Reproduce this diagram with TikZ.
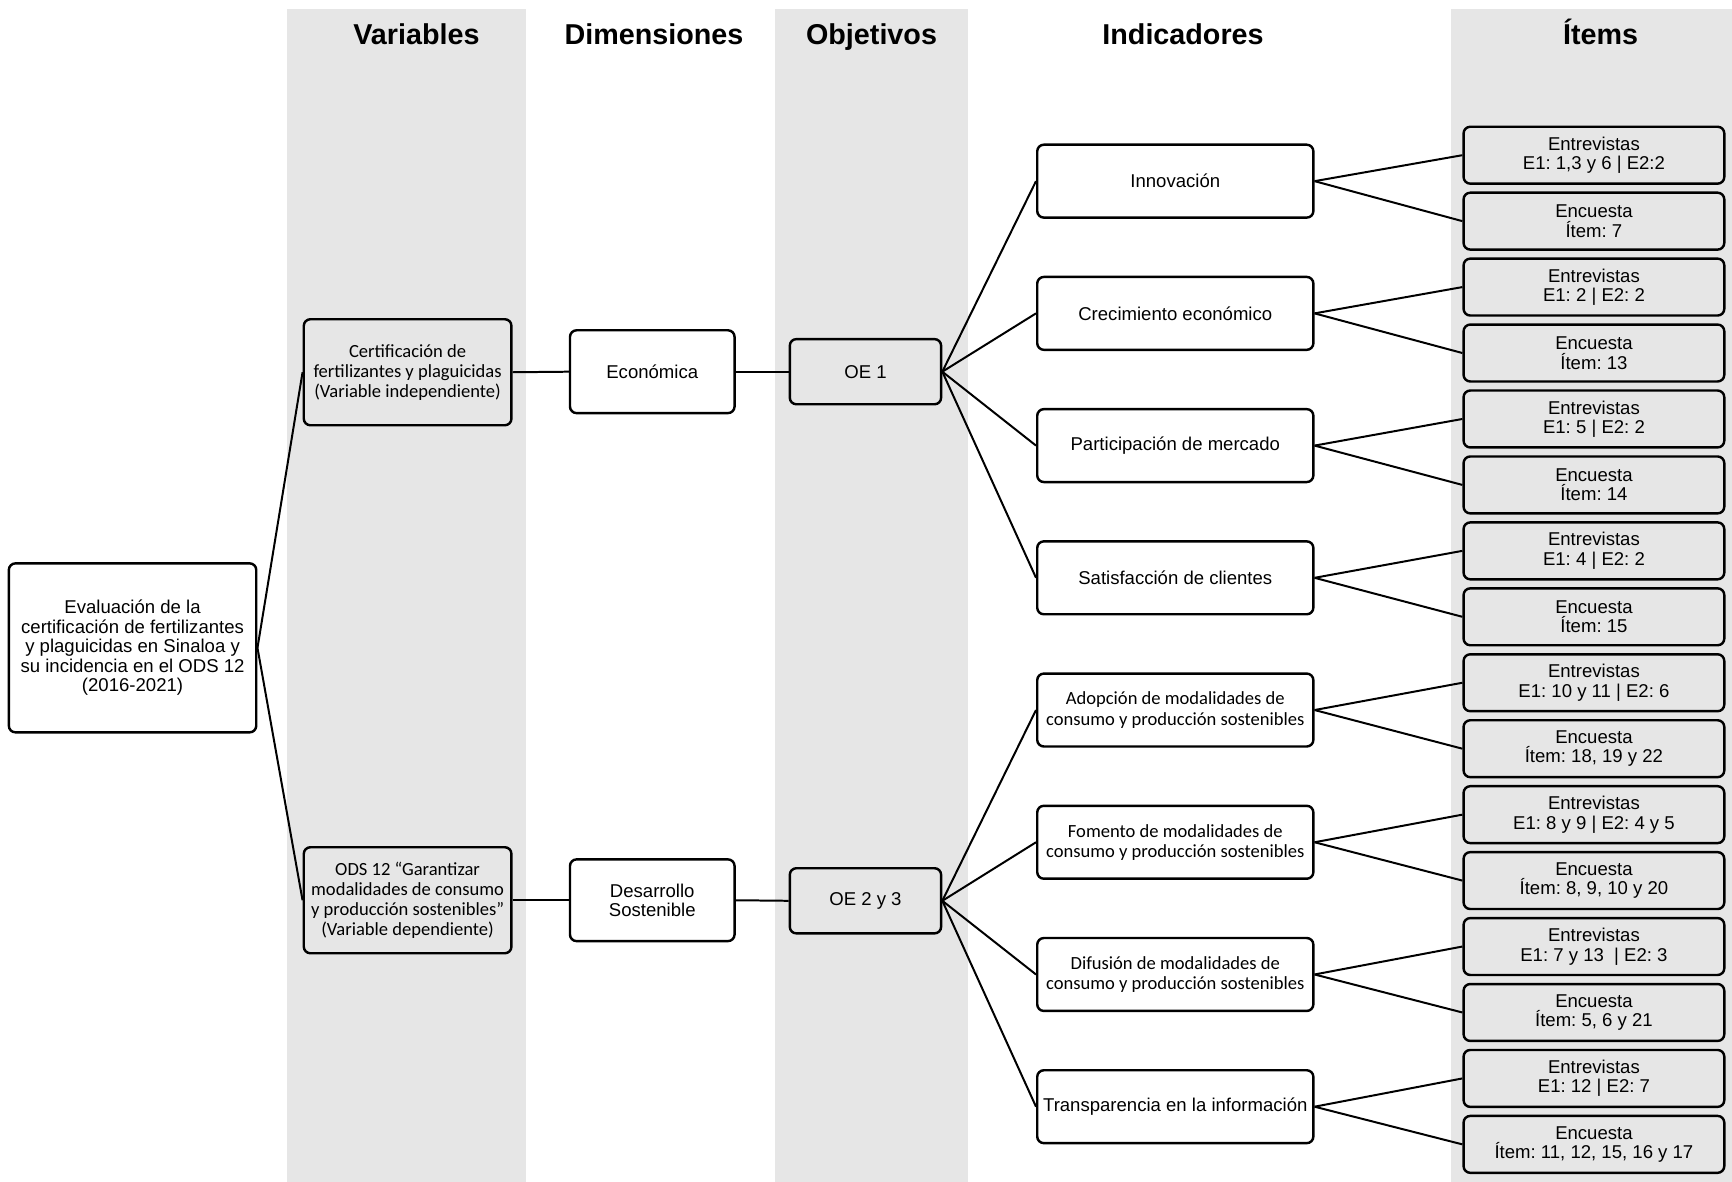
\documentclass[tikz,border=0pt]{standalone}
\usepackage{fontspec}
\setmainfont{Liberation Sans}
\newfontfamily\calib{Carlito}
\definecolor{band}{HTML}{E6E6E6}
\frenchspacing
\begin{document}
\begin{tikzpicture}[x=0.5pt,y=-0.5pt,
  txt/.style={font=\frenchspacing\fontsize{8.4}{8.8}\selectfont},
  ctxt/.style={font=\frenchspacing\calib\fontsize{8.4}{9.1}\selectfont},
  hdr/.style={font=\fontsize{13}{15}\selectfont\bfseries, anchor=base},
  box/.style={draw, line width=1.1pt, rounded corners=3pt, align=center, inner sep=0pt},
  gbox/.style={box, fill=band},
  wbox/.style={box, fill=white},
  conn/.style={line width=0.9pt}]
\useasboundingbox (0,0) rectangle (1568,1070);
% bands
\fill[band] (260,8) rectangle (476,1070);
\fill[band] (702,8) rectangle (876,1070);
\fill[band] (1314,8) rectangle (1568,1070);
% headers
\node[hdr] (h1) at (377,40) {Variables};
\node[hdr] (h2) at (592,40) {Dimensiones};
\node[hdr] (h3) at (789,40) {Objetivos};
\node[hdr] (h4) at (1071,40) {Indicadores};
\node[hdr] (h5) at (1449,40) {Ítems};
% main nodes
\node[wbox,txt,minimum width=112pt,minimum height=76.5pt] (main) at (120,586.5)
  {Evaluación de la\\certificación de fertilizantes\\y plaguicidas en Sinaloa y\\su incidencia en el ODS 12\\(2016-2021)};
\node[gbox,ctxt,minimum width=94pt,minimum height=48pt] (cert) at (369,337)
  {Certificación de\\fertilizantes y plaguicidas\\(Variable independiente)};
\node[gbox,ctxt,minimum width=94pt,minimum height=48pt] (ods) at (369,815)
  {ODS 12 “Garantizar\\modalidades de consumo\\y producción sostenibles”\\(Variable dependiente)};
\node[wbox,txt,minimum width=74.5pt,minimum height=37.5pt] (eco) at (590.5,336.5) {Económica};
\node[wbox,txt,minimum width=74.5pt,minimum height=37pt] (des) at (590.5,815) {Desarrollo\\Sostenible};
\node[gbox,txt,minimum width=68.5pt,minimum height=29.5pt] (oe1) at (783.5,336.5) {OE 1};
\node[gbox,txt,minimum width=68.5pt,minimum height=29.5pt] (oe2) at (783.5,815.5) {OE 2 y 3};
% indicators
\foreach \i/\t/\s in {1/{Innovación}/txt,
  2/{Crecimiento económico}/txt,
  3/{Participación de mercado}/txt,
  4/{Satisfacción de clientes}/txt,
  5/{Adopción de modalidades de\\consumo y producción sostenibles}/ctxt,
  6/{Fomento de modalidades de\\consumo y producción sostenibles}/ctxt,
  7/{Difusión de modalidades de\\consumo y producción sostenibles}/ctxt,
  8/{Transparencia en la información}/txt}{
  \node[wbox,\s,minimum width=125pt,minimum height=33pt] (ind\i) at (1064,{164+119.7*(\i-1)}) {\t};
}
% items
\foreach \i/\t in {1/{Entrevistas\\E1: 1,3 y 6 | E2:2},
  2/{Encuesta\\Ítem: 7},
  3/{Entrevistas\\E1: 2 | E2: 2},
  4/{Encuesta\\Ítem: 13},
  5/{Entrevistas\\E1: 5 | E2: 2},
  6/{Encuesta\\Ítem: 14},
  7/{Entrevistas\\E1: 4 | E2: 2},
  8/{Encuesta\\Ítem: 15},
  9/{Entrevistas\\E1: 10 y 11 | E2: 6},
  10/{Encuesta\\Ítem: 18, 19 y 22},
  11/{Entrevistas\\E1: 8 y 9 | E2: 4 y 5},
  12/{Encuesta\\Ítem: 8, 9, 10 y 20},
  13/{Entrevistas\\E1: 7 y 13\ \ | E2: 3},
  14/{Encuesta\\Ítem: 5, 6 y 21},
  15/{Entrevistas\\E1: 12 | E2: 7},
  16/{Encuesta\\Ítem: 11, 12, 15, 16 y 17}}{
  \node[gbox,txt,minimum width=118pt,minimum height=25.75pt] (it\i) at (1443,{140.5+59.7*(\i-1)}) {\t};
}
% connectors
\draw[conn] (main.east) -- (cert.west);
\draw[conn] (main.east) -- (ods.west);
\draw[conn] (cert.east) -- (eco.west);
\draw[conn] (eco.east) -- (oe1.west);
\draw[conn] (ods.east) -- (des.west);
\draw[conn] (des.east) -- (oe2.west);
\foreach \i in {1,2,3,4}{\draw[conn] (oe1.east) -- (ind\i.west);}
\foreach \i in {5,6,7,8}{\draw[conn] (oe2.east) -- (ind\i.west);}
\foreach \i in {1,...,8}{
  \pgfmathtruncatemacro{\a}{2*\i-1}
  \pgfmathtruncatemacro{\b}{2*\i}
  \draw[conn] (ind\i.east) -- (it\a.west);
  \draw[conn] (ind\i.east) -- (it\b.west);
}
\end{tikzpicture}
\end{document}
